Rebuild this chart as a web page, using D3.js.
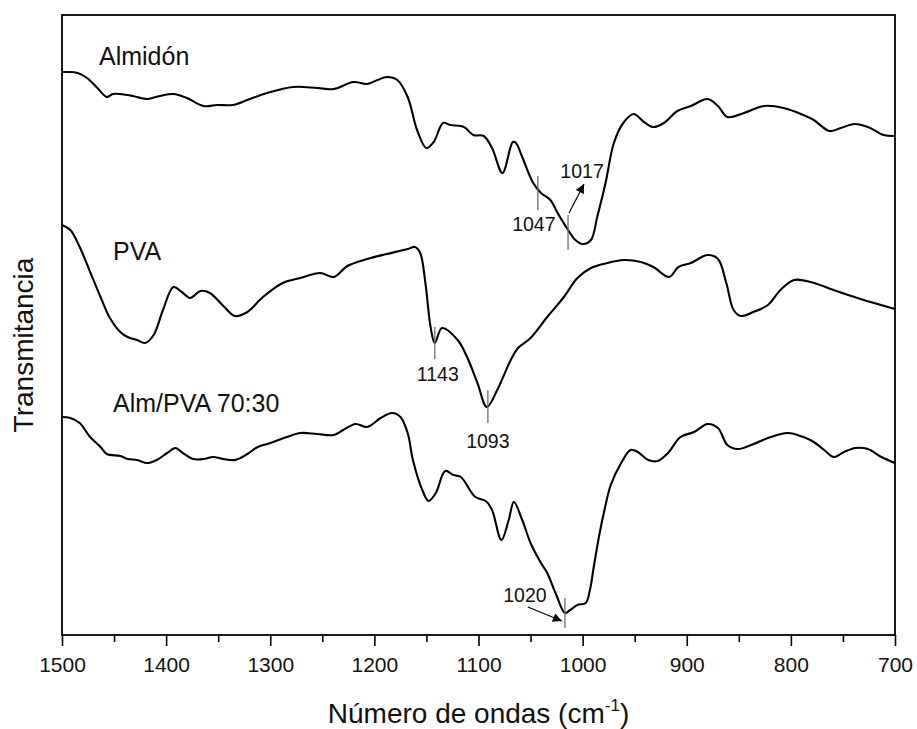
<!DOCTYPE html>
<html><head><meta charset="utf-8">
<script src="https://cdn.jsdelivr.net/npm/d3@7"></script>
<style>
body{margin:0;background:#fff}
svg{display:block}
text{font-family:"Liberation Sans",Arial,Helvetica,sans-serif;fill:#111}
</style>
</head><body>
<svg id="chart" width="917" height="729"></svg>
<script>
// ---------- data ----------
const xTicks = [1500,1400,1300,1200,1100,1000,900,800,700];
const xMinorTicks = [1450,1350,1250,1150,1050,950,850,750];
const seriesNames = ["Almidón","PVA","Alm/PVA 70:30"];

const almidonWn = [1500,1495,1485,1476,1466,1457,1451,1437,1432,1418,1406,1393,1380,1364,1351,1336,1322,1303,1278,1255,1239,1220,1207,1197,1188,1178,1168,1159,1150,1143,1134,1127,1114,1105,1095,1087,1077,1067,1064,1058,1048,1040,1031,1024,1014,1007,1000,992,986,978,970,961,951,941,932,922,909,896,880,870,861,845,826,807,788,778,763,752,739,726,711,700];
const almidonT  = [563,563,562,557,547,538,541,540,539,536,539,541,537,529,530,530,535,542,548,547,546,553,551,555,558,555,538,505,487,493,512,510,508,500,499,487,462,493,492,478,453,442,435,422,405,395,391,395,418,452,492,512,521,513,508,512,524,529,536,529,518,522,529,527,520,515,504,507,511,508,500,499];

const pvaWn = [1500,1492,1483,1473,1463,1454,1444,1437,1428,1420,1412,1403,1393,1385,1377,1367,1358,1345,1334,1322,1307,1288,1271,1252,1239,1226,1207,1188,1168,1161,1156,1151,1146,1142,1135,1120,1111,1101,1092,1082,1069,1062,1050,1034,1018,1005,992,976,961,944,932,917,908,896,880,870,862,855,848,836,822,810,797,781,759,733,700];
const pvaT  = [410,405,388,363,338,317,303,298,295,292,300,325,348,343,337,344,342,329,319,323,338,352,357,362,358,369,376,381,386,388,382,352,308,292,307,295,278,252,228,245,275,287,297,318,338,357,367,372,375,373,368,358,368,372,380,376,352,325,319,323,330,345,355,353,345,336,326];

const mezclaWn = [1500,1492,1483,1473,1463,1457,1444,1437,1428,1418,1409,1399,1391,1384,1374,1364,1355,1345,1334,1322,1312,1300,1284,1271,1255,1239,1230,1218,1207,1194,1183,1175,1168,1163,1154,1148,1141,1132,1124,1117,1103,1093,1087,1078,1071,1066,1058,1050,1040,1034,1026,1017,1012,1005,997,993,989,984,979,973,963,954,947,937,928,918,906,893,880,870,861,851,838,822,803,788,778,768,759,749,738,726,713,700];
const mezclaT  = [218,217,212,198,188,181,179,176,175,172,175,182,187,182,176,176,178,176,175,181,188,192,198,202,201,200,205,211,208,217,222,218,202,175,145,134,142,164,160,158,138,134,125,95,115,133,115,92,72,62,42,22,25,30,32,45,70,100,125,150,172,185,183,175,174,182,198,203,211,207,190,186,190,197,202,198,193,185,178,183,187,186,178,172];

const peakLabels = ["1047","1017","1143","1093","1020"];
const peakWn     = [1043,1014,1142,1091,1017];
const peakTickLo = [425,385,276,212,7];
const peakTickHi = [459,420,308,245,37];

// ---------- layout ----------
const m = {left:62, right:895, top:15, bottom:635};
const svg = d3.select("#chart");

const x = d3.scaleLinear().domain([1500,700]).range([m.left, m.right]);
const y = d3.scaleLinear().domain([0,620]).range([m.bottom, m.top]);

svg.append("defs").append("marker")
  .attr("id","arrow").attr("viewBox","0 0 10 10").attr("refX",10).attr("refY",5)
  .attr("markerWidth",11).attr("markerHeight",9).attr("markerUnits","userSpaceOnUse")
  .attr("orient","auto")
  .append("path").attr("d","M0,0 L10,5 L0,10 Z").attr("fill","#000");

const line = d3.line().x(d => x(d[0])).y(d => y(d[1])).curve(d3.curveCatmullRom.alpha(0.5));
const series = [
  d3.zip(almidonWn, almidonT),
  d3.zip(pvaWn, pvaT),
  d3.zip(mezclaWn, mezclaT)
];
svg.append("g").selectAll("path").data(series).join("path")
  .attr("d", line).attr("fill","none").attr("stroke","#000")
  .attr("stroke-width",2.1).attr("stroke-linejoin","round");

const ann = svg.append("g");
peakWn.forEach((wn,i) => {
  ann.append("line")
    .attr("x1", x(wn)).attr("x2", x(wn))
    .attr("y1", y(peakTickHi[i])).attr("y2", y(peakTickLo[i]))
    .attr("stroke","#6e6e6e").attr("stroke-width",1.3);
});
const labelPos = [
  {dx:-4, y:231}, {dx:14, y:178}, {dx:3, y:381}, {dx:0, y:448}, {dx:-40, y:602}
];
peakLabels.forEach((lab,i) => {
  ann.append("text").attr("x", x(peakWn[i]) + labelPos[i].dx).attr("y", labelPos[i].y)
    .attr("text-anchor","middle").attr("font-size",19.5).text(lab);
});
const a1 = x(peakWn[1]);
ann.append("line").attr("x1",a1+1).attr("y1",213).attr("x2",a1+16).attr("y2",184)
  .attr("stroke","#000").attr("stroke-width",1.2).attr("marker-end","url(#arrow)");
const a2 = x(peakWn[4]);
ann.append("line").attr("x1",a2-37).attr("y1",607).attr("x2",a2-3).attr("y2",621)
  .attr("stroke","#000").attr("stroke-width",1.2).attr("marker-end","url(#arrow)");

const nameLayout = [{x:99,y:65},{x:113,y:260},{x:113,y:412}];
svg.append("g").selectAll("text").data(seriesNames).join("text")
  .attr("x",(d,i)=>nameLayout[i].x).attr("y",(d,i)=>nameLayout[i].y)
  .attr("font-size",25).text(d=>d);

svg.append("rect").attr("x",m.left).attr("y",m.top)
  .attr("width",m.right-m.left).attr("height",m.bottom-m.top)
  .attr("fill","none").attr("stroke","#000").attr("stroke-width",1.8);

const gx = svg.append("g").attr("transform",`translate(0,${m.bottom})`)
  .call(d3.axisBottom(x).tickValues(xTicks).tickSize(11).tickSizeOuter(0).tickPadding(11).tickFormat(d3.format("d")));
gx.select(".domain").remove();
gx.selectAll(".tick line").attr("stroke","#000").attr("stroke-width",1.6);
gx.selectAll(".tick text").attr("font-size",21).attr("fill","#111")
  .attr("font-family","'Liberation Sans',Arial,sans-serif");
const gm = svg.append("g").attr("transform",`translate(0,${m.bottom})`)
  .call(d3.axisBottom(x).tickValues(xMinorTicks).tickSize(7).tickSizeOuter(0).tickFormat(""));
gm.select(".domain").remove();
gm.selectAll(".tick line").attr("stroke","#000").attr("stroke-width",1.6);

const xt = svg.append("text").attr("x",(m.left+m.right)/2).attr("y",723)
  .attr("text-anchor","middle").attr("font-size",28);
xt.append("tspan").text("Número de ondas (cm");
xt.append("tspan").attr("font-size",17).attr("dy",-12).text("-1");
xt.append("tspan").attr("dy",12).text(")");

svg.append("text").attr("transform",`translate(33,345) rotate(-90)`)
  .attr("text-anchor","middle").attr("font-size",28).text("Transmitancia");
</script>
</body></html>
